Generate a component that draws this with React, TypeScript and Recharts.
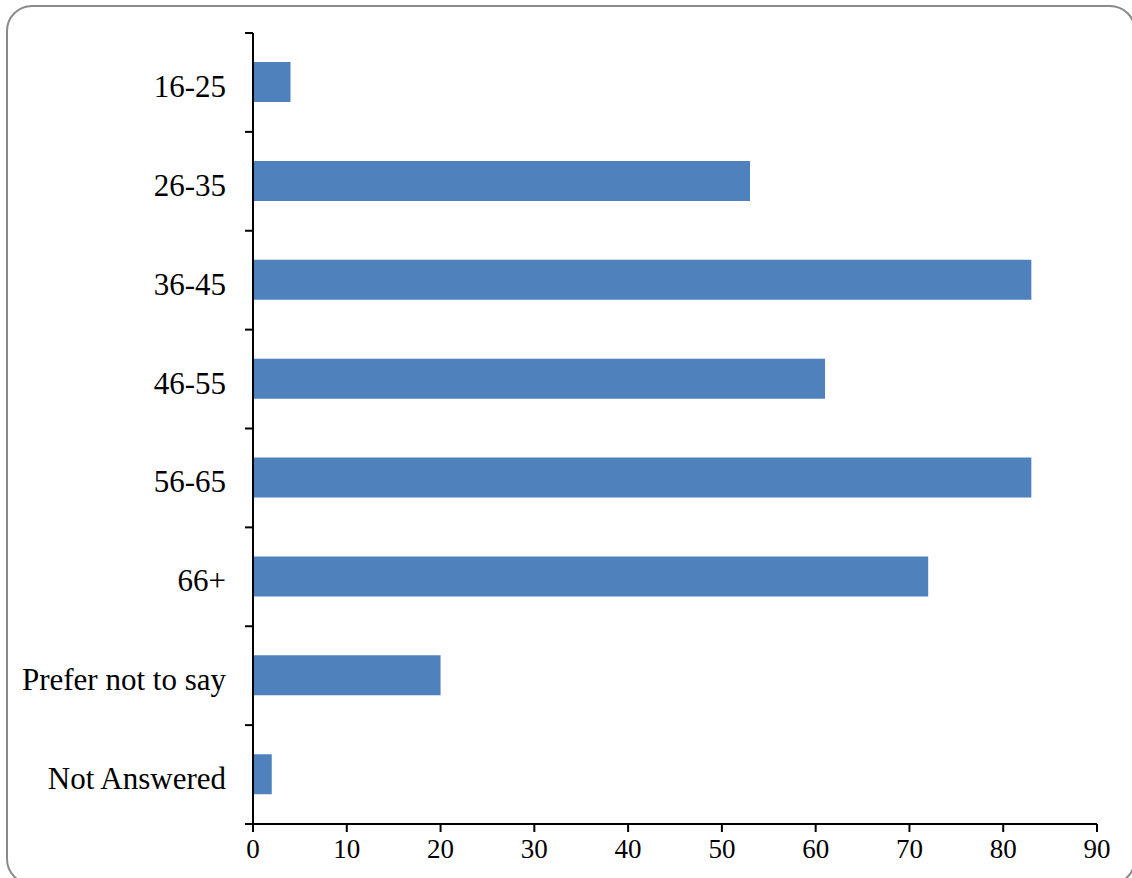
import { BarChart, Bar, XAxis, YAxis } from "recharts";

const ageGroups = ["16-25", "26-35", "36-45", "46-55", "56-65", "66+", "Prefer not to say", "Not Answered"];
const counts = [4, 53, 83, 61, 83, 72, 20, 2];
const xTicks = [0, 10, 20, 30, 40, 50, 60, 70, 80, 90];

const W = 1132;
const H = 878;
const M = { top: 33, right: 35, bottom: 14, left: 13 };
const X_AXIS_H = 40;
const Y_AXIS_W = 240;
const BAND = (H - M.top - M.bottom - X_AXIS_H) / ageGroups.length;
const FONT = "'Liberation Serif', serif";

const data = ageGroups.map((g, i) => ({ group: g, count: counts[i] }));

// category ticks sit between bands, like the original spreadsheet chart
const YTick = (props: any) => {
  const { x, y, payload, index } = props;
  const axisX = x + 27;
  return (
    <g>
      <line x1={axisX - 8} x2={axisX} y1={y - BAND / 2} y2={y - BAND / 2} stroke="#000" strokeWidth={2} />
      {index === ageGroups.length - 1 && (
        <line x1={axisX - 8} x2={axisX} y1={y + BAND / 2} y2={y + BAND / 2} stroke="#000" strokeWidth={2} />
      )}
      <text x={x} y={y + 4} textAnchor="end" dominantBaseline="central" fontSize={31} fill="#000" fontFamily={FONT}>
        {payload.value}
      </text>
    </g>
  );
};

const XTick = (props: any) => {
  const { x, y, payload } = props;
  return (
    <text x={x} y={y + 13} textAnchor="middle" dominantBaseline="central" fontSize={27} fill="#000" fontFamily={FONT}>
      {payload.value}
    </text>
  );
};

export default function App() {
  return (
    <div style={{ position: "absolute", left: 0, top: 0, width: W, height: H, overflow: "hidden", background: "#fff" }}>
      <div
        style={{
          position: "absolute",
          left: 6,
          top: 5,
          width: 1130,
          height: 880,
          border: "2px solid #8a8a8a",
          borderRadius: 26,
          boxSizing: "border-box",
        }}
      />
      <div style={{ position: "absolute", left: 0, top: 0 }}>
        <BarChart width={W} height={H} data={data} layout="vertical" margin={M} barSize={40}>
          <XAxis
            type="number"
            domain={[0, 90]}
            ticks={xTicks}
            height={X_AXIS_H}
            stroke="#000"
            strokeWidth={2}
            tickSize={8}
            tickMargin={4}
            tick={<XTick />}
            interval={0}
          />
          <YAxis
            type="category"
            dataKey="group"
            width={Y_AXIS_W}
            stroke="#000"
            strokeWidth={2}
            tickLine={false}
            tickSize={8}
            tickMargin={19}
            tick={<YTick />}
            interval={0}
          />
          <Bar dataKey="count" fill="#4f81bd" isAnimationActive={false} />
        </BarChart>
      </div>
    </div>
  );
}
